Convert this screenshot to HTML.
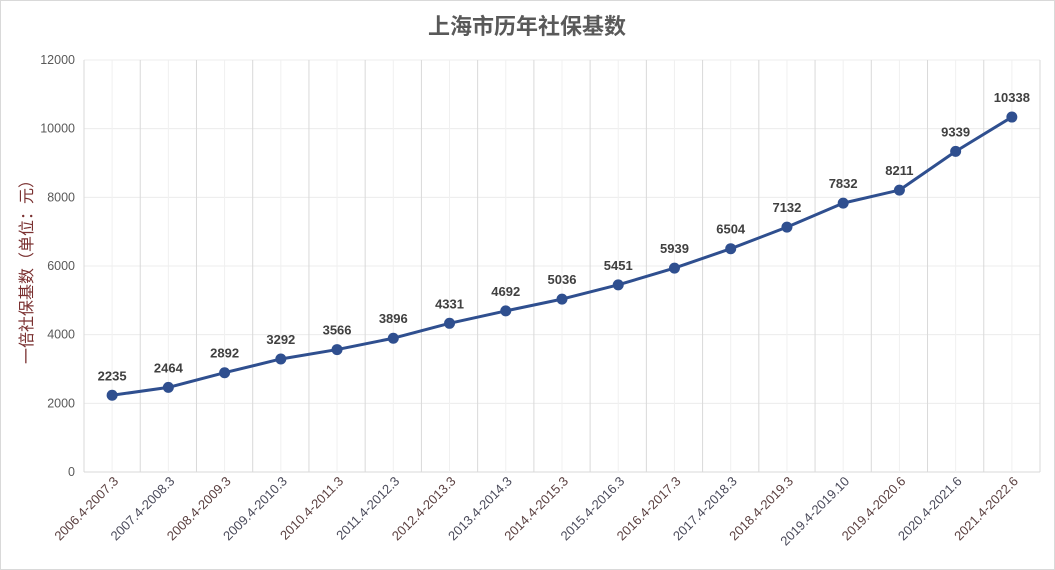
<!DOCTYPE html>
<html><head><meta charset="utf-8"><style>
body{margin:0;background:#fff;}
svg{display:block;font-family:"Liberation Sans","Noto Sans CJK SC",sans-serif;}
</style></head><body>
<svg width="1055" height="570">
<rect x="0.5" y="0.5" width="1054" height="569" fill="#fff" stroke="#d9d9d9"/>
<text x="527" y="34" text-anchor="middle" font-size="22" font-weight="bold" fill="#595959" font-family="'Liberation Sans','Noto Sans CJK SC',sans-serif">上海市历年社保基数</text>
<text transform="translate(32,268) rotate(-90)" text-anchor="middle" font-size="16" fill="#7a3030">一倍社保基数（单位：元）</text>
<g id="grid"></g><g id="axes"></g><g id="series"></g>
</svg>
<script>
const categories=["2006.4-2007.3","2007.4-2008.3","2008.4-2009.3","2009.4-2010.3","2010.4-2011.3","2011.4-2012.3","2012.4-2013.3","2013.4-2014.3","2014.4-2015.3","2015.4-2016.3","2016.4-2017.3","2017.4-2018.3","2018.4-2019.3","2019.4-2019.10","2019.4-2020.6","2020.4-2021.6","2021.4-2022.6"];
const values=[2235,2464,2892,3292,3566,3896,4331,4692,5036,5451,5939,6504,7132,7832,8211,9339,10338];
const yTicks=[0,2000,4000,6000,8000,10000,12000];
const NS="http://www.w3.org/2000/svg";
const L=84,R=1040,T=60,B=472,yMax=12000;
const bw=(R-L)/categories.length;
const xC=i=>L+bw*(i+0.5);
const yS=v=>B-(v/yMax)*(B-T);
function mk(tag,attrs,parent){const e=document.createElementNS(NS,tag);for(const k in attrs)e.setAttribute(k,attrs[k]);parent.appendChild(e);return e;}
const grid=document.getElementById('grid'),axes=document.getElementById('axes'),ser=document.getElementById('series');
yTicks.forEach(t=>{
  const ln=mk('line',{x1:L,x2:R,y1:yS(t),y2:yS(t),stroke:t===0?'#d9d9d9':'#ececec','stroke-width':1},grid);
  
  
  const tx=mk('text',{x:L-9,y:yS(t)+4,'text-anchor':'end','font-size':12.5,fill:'#595959'},axes);
  tx.textContent=t;
  
  
});
for(let i=0;i<=categories.length;i++){
  const x=L+bw*i;
  const ln=mk('line',{x1:x,x2:x,y1:T,y2:B,stroke:'#d9d9d9','stroke-width':1},grid);
  
  
}
categories.forEach((c,i)=>{
  const ln=mk('line',{x1:xC(i),x2:xC(i),y1:T,y2:B,stroke:'#f0f0f0','stroke-width':1},grid);
  
  
  const tx=mk('text',{transform:`translate(${xC(i)+7},${B+10}) rotate(-45)`,'text-anchor':'end','font-size':13,fill:i%2?'#4a4a5a':'#5a3f3f'},axes);
  tx.textContent=c;
  
  
});
const pts=values.map((v,i)=>xC(i)+','+yS(v)).join(' ');
const pl=mk('polyline',{points:pts,fill:'none',stroke:'#2f4f8f','stroke-width':3,'stroke-linejoin':'round'},ser);


values.forEach((v,i)=>{
  const c=mk('circle',{cx:xC(i),cy:yS(v),r:5.5,fill:'#2f4f8f'},ser);
  
  
  const t=mk('text',{x:xC(i),y:yS(v)-15,'text-anchor':'middle','font-size':13,'font-weight':'bold',fill:'#404040'},ser);
  t.textContent=v;
  
  
});
</script>
</body></html>
